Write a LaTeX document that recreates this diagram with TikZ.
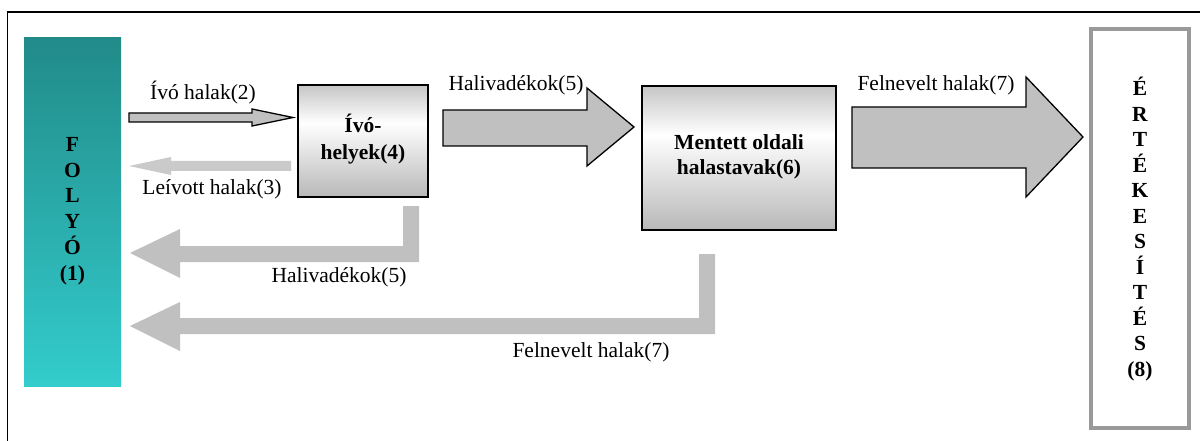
\documentclass[tikz,border=0pt]{standalone}
\usepackage{fontspec}
\setmainfont{Liberation Serif}
\definecolor{arrowgray}{RGB}{192,192,192}
\definecolor{lightarrow}{RGB}{202,202,202}
\definecolor{tealtop}{RGB}{33,139,137}
\definecolor{tealbot}{RGB}{51,204,204}
\definecolor{boxtop}{RGB}{198,198,198}
\definecolor{boxbot}{RGB}{184,184,184}
\definecolor{framegray}{RGB}{153,153,153}
\pgfdeclareverticalshading{boxshade}{100bp}{color(0bp)=(boxbot); color(25bp)=(boxbot); color(58bp)=(white); color(75bp)=(boxtop); color(100bp)=(boxtop)}
\begin{document}
\begin{tikzpicture}[x=1pt,y=-1pt,
  lbl/.style={font=\fontsize{21.5}{25.5}\selectfont, inner sep=0pt},
  boxlbl/.style={font=\fontsize{21.5}{27}\selectfont\bfseries, align=center, inner sep=0pt},
  procbox/.style={draw=black, line width=1.6pt, shading=boxshade, inner sep=0pt},
  outarrow/.style={fill=arrowgray, draw=black, line width=1.3pt, line join=miter},
  flatarrow/.style={fill=arrowgray},
]
\useasboundingbox (0,0) rectangle (1200,441);
\clip (0,0) rectangle (1200,441);
% outer frame (partly outside the page)
\draw[line width=1.6pt] (7.5,12) rectangle (1230,470);

% river
\node[minimum width=97pt, minimum height=348pt, top color=tealtop, bottom color=tealbot, inner sep=0pt] (folyo) at (72.5,212) {};
\node[font=\fontsize{21.5}{25.8}\selectfont\bfseries, align=center, inner sep=0pt] (folyotxt) at (72.5,211) {F\\O\\L\\Y\\Ó\\(1)};

% spawning places
\node[procbox, minimum width=130pt, minimum height=112pt] (ivo) at (363,141) {};
\node[boxlbl] (ivotxt) at (363,139.5) {Ívó-\\helyek(4)};

% side ponds
\node[procbox, minimum width=194pt, minimum height=144pt] (mentett) at (739,158) {};
\node[boxlbl, font=\fontsize{21.5}{24.5}\selectfont\bfseries] (menttxt) at (739,157) {Mentett oldali\\halastavak(6)};

% selling
\node[draw=framegray, line width=4pt, fill=white, minimum width=98pt, minimum height=399pt, inner sep=0pt] (ertek) at (1140,228.5) {};
\node[font=\fontsize{21.5}{25.5}\selectfont\bfseries, align=center, inner sep=0pt] (ertektxt) at (1140,229) {É\\R\\T\\É\\K\\E\\S\\Í\\T\\É\\S\\(8)};

% arrow 2: spawning fish
\draw[outarrow] (129,113) -- (252,113) -- (252,109) -- (293,117.5) -- (252,126) -- (252,122) -- (129,122) -- cycle;
% arrow 3: spawned fish back
\fill[lightarrow] (129,166) -- (171,157) -- (171,161) -- (291,161) -- (291,171) -- (171,171) -- (171,175) -- cycle;
% arrow 5 upper
\draw[outarrow] (443,110) -- (587,110) -- (587,88) -- (634,127) -- (587,166) -- (587,146) -- (443,146) -- cycle;
% arrow 7 upper
\draw[outarrow] (852,107) -- (1026,107) -- (1026,77) -- (1083,137) -- (1026,197) -- (1026,168) -- (852,168) -- cycle;
% arrow 5 lower (L-shaped)
\fill[flatarrow] (130,253) -- (180,229) -- (180,246) -- (403,246) -- (403,206) -- (419,206) -- (419,262) -- (180,262) -- (180,278) -- cycle;
% arrow 7 lower (L-shaped)
\fill[flatarrow] (130,326) -- (180,302) -- (180,318) -- (699,318) -- (699,254) -- (715,254) -- (715,334) -- (180,334) -- (180,351) -- cycle;

% labels
\node[lbl] (l2) at (203,93) {Ívó halak(2)};
\node[lbl] (l3) at (212,189) {Leívott halak(3)};
\node[lbl] (l5a) at (516,85) {Halivadékok(5)};
\node[lbl] (l7a) at (936,85) {Felnevelt halak(7)};
\node[lbl] (l5b) at (339,277) {Halivadékok(5)};
\node[lbl] (l7b) at (591,352) {Felnevelt halak(7)};
\end{tikzpicture}
\end{document}
